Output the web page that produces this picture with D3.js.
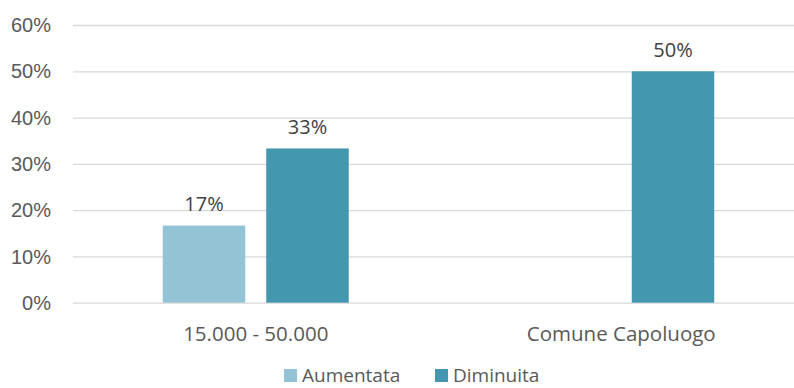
<!DOCTYPE html>
<html>
<head>
<meta charset="utf-8">
<script src="https://cdn.jsdelivr.net/npm/d3@7"></script>
<style>
  html, body { margin: 0; padding: 0; background: #fff; }
  svg { display: block; font-family: "Open Sans", sans-serif; }
</style>
</head>
<body>
<svg id="chart" width="794" height="388"></svg>
<script>
// Share of municipalities by change, per population class
const categories = ["15.000 - 50.000", "Comune Capoluogo"];
const seriesNames = ["Aumentata", "Diminuita"];
const aumentata = [16.67, null];
const diminuita = [33.33, 50];
const yTicks = [0, 10, 20, 30, 40, 50, 60];
const colors = ["#93c3d5", "#4398b0"];

const seriesValues = [aumentata, diminuita];

const svg = d3.select("#chart");
const plot = { left: 73, right: 804, top: 25, bottom: 302.7 };

const y = d3.scaleLinear().domain([0, 60]).range([plot.bottom, plot.top]);
const x0 = d3.scaleBand().domain(categories).range([plot.left, plot.right]);
const x1 = d3.scaleBand().domain(seriesNames)
  .range([89.75, 275.75]).paddingInner(0.203);

// horizontal gridlines and y tick labels
const yAxis = d3.axisLeft(y).tickValues(yTicks)
  .tickFormat(d => d + "%")
  .tickSize(-(plot.right - plot.left)).tickPadding(22);
const gy = svg.append("g").attr("transform", `translate(${plot.left},0)`).call(yAxis);
gy.select(".domain").remove();
gy.selectAll(".tick line").attr("stroke", "#d9d9d9").attr("stroke-width", 1.3);
gy.selectAll(".tick text").attr("fill", "#595959").attr("font-size", 20)
  .attr("dy", "0.33em");

// bars
const rows = [];
categories.forEach((c, i) => {
  seriesNames.forEach((s, j) => {
    const v = seriesValues[j][i];
    if (v != null) rows.push({ cat: c, series: s, value: v, color: colors[j] });
  });
});

svg.append("g").selectAll("rect").data(rows).join("rect")
  .attr("x", d => x0(d.cat) + x1(d.series))
  .attr("width", x1.bandwidth())
  .attr("y", d => y(d.value))
  .attr("height", d => y(0) - y(d.value))
  .attr("fill", d => d.color);

// value labels
svg.append("g").selectAll("text").data(rows).join("text")
  .attr("x", d => x0(d.cat) + x1(d.series) + x1.bandwidth() / 2)
  .attr("y", d => y(d.value) - 14.5)
  .attr("text-anchor", "middle")
  .attr("font-size", 20)
  .attr("fill", "#404040")
  .text(d => Math.round(d.value) + "%");

// category labels, centred under each bar pair
const groupMid = (x1.range()[0] + x1.range()[1]) / 2;
svg.append("g").selectAll("text").data(categories).join("text")
  .attr("x", d => x0(d) + groupMid)
  .attr("y", 341)
  .attr("text-anchor", "middle")
  .attr("font-size", 20.5)
  .attr("fill", "#595959")
  .text(d => d);

// legend
const legendItems = [
  { name: seriesNames[0], color: colors[0], x: 284 },
  { name: seriesNames[1], color: colors[1], x: 435 }
];
const lg = svg.append("g");
legendItems.forEach(it => {
  lg.append("rect").attr("x", it.x).attr("y", 369)
    .attr("width", 13).attr("height", 13).attr("fill", it.color);
  lg.append("text").attr("x", it.x + 18).attr("y", 382)
    .attr("font-size", 19).attr("fill", "#595959").text(it.name);
});
</script>
</body>
</html>
